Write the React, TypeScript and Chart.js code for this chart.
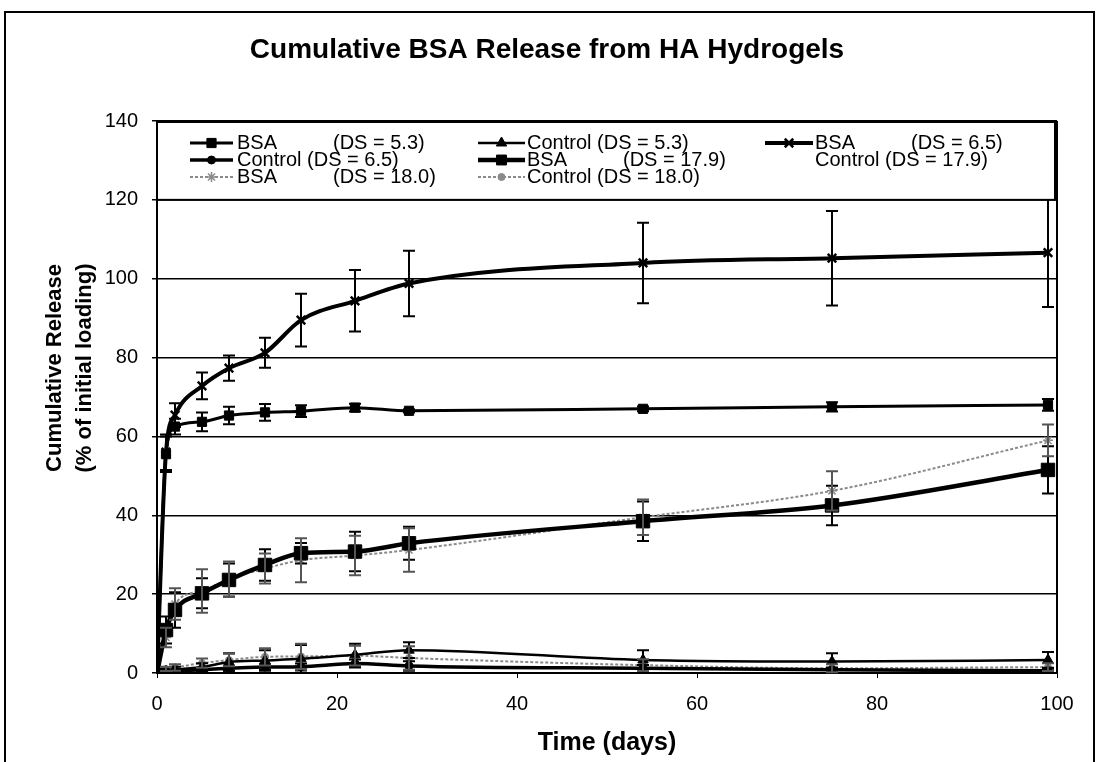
import React, { useEffect, useRef } from 'react';
import { Chart, registerables } from 'chart.js';
import { drawPoint } from 'chart.js/helpers';

Chart.register(...registerables);

// ---------------- data ----------------
const days = [0, 1, 2, 5, 8, 12, 16, 22, 28, 54, 75, 99];

const bsa53 = [0, 55.5, 62.5, 63.7, 65.3, 66.1, 66.4, 67.3, 66.5, 67, 67.5, 68];
const bsa53Err = [0, 4.5, 2, 2.4, 2.2, 2.1, 1.5, 1, 0.4, 0.6, 1.2, 1.5];

const ctl53 = [0, 0.4, 0.8, 1.5, 2.8, 3.2, 3.6, 4.6, 5.8, 3.3, 2.9, 3.3];
const ctl53Err = [0, 0.5, 0.8, 1, 2.2, 2.6, 3.5, 2.8, 2, 2.5, 2.1, 2];

const bsa65 = [0, 56, 65.4, 72.8, 77.3, 81.2, 89.5, 94.4, 98.8, 104, 105.2, 106.6];
const bsa65Err = [0, 4.5, 3, 3.4, 3.2, 3.8, 6.7, 7.8, 8.3, 10.2, 12, 13.8];

const ctl65 = [0, 0.3, 0.5, 0.8, 1.2, 1.5, 1.6, 2.4, 1.8, 1.2, 0.8, 0.6];
const ctl65Err = [0, 0.3, 0.4, 0.5, 0.6, 0.7, 0.8, 1, 1.2, 0.8, 0.6, 0.5];

const bsa179 = [0, 10.9, 16, 20.2, 23.6, 27.4, 30.4, 30.8, 32.9, 38.5, 42.5, 51.5];
const bsa179Err = [0, 3.4, 4.5, 3.8, 4.2, 4, 2.6, 5, 4.2, 5, 5, 6];

const ctl179 = [0, 0.2, 0.3, 0.5, 0.6, 0.7, 0.8, 0.9, 1, 0.8, 0.6, 0.5];

const bsa180 = [0, 9, 17.5, 20.8, 23.8, 26.5, 28.6, 29.8, 31.2, 39.5, 46.2, 59];
const bsa180Err = [0, 2.5, 4, 5.5, 4.5, 3.8, 5.6, 5, 5.5, 4.5, 5, 4];

const ctl180 = [0, 1, 1.4, 2.5, 3.3, 4.1, 4.2, 4.4, 3.8, 2, 1.2, 1.5];
const ctl180Err = [0, 0.5, 0.8, 1.2, 1.6, 2.2, 3.2, 2.5, 3, 1.5, 1, 1];

const seriesNames = ['BSA', 'Control', 'BSA', 'Control', 'BSA', 'Control', 'BSA', 'Control'];
const seriesDS = ['(DS = 5.3)', '(DS = 5.3)', '(DS = 6.5)', '(DS = 6.5)', '(DS = 17.9)', '(DS = 17.9)', '(DS = 18.0)', '(DS = 18.0)'];

const chartTitle = 'Cumulative BSA Release from HA Hydrogels';
const xTitle = 'Time (days)';
const yTitleLines = ['Cumulative Release', '(% of initial loading)'];

const xMin = 0, xMax = 100, xStep = 20;
const yMin = 0, yMax = 140, yStep = 20;

const FONT = 'Arial, "Liberation Sans", Helvetica, sans-serif';

// ---------------- helpers ----------------
const pts = (vals: number[]) => vals.map((v, i) => ({ x: days[i], y: v }));

type Style = {
  color: string; width: number; dash: number[]; pointStyle: any; radius: number; pbw: number; fill: string; err: string;
};

const styles: Style[] = [
  { color: '#000', width: 3, dash: [], pointStyle: 'rect', radius: 6.5, pbw: 1, fill: '#000', err: '#000' },
  { color: '#000', width: 2.5, dash: [], pointStyle: 'triangle', radius: 6, pbw: 1, fill: '#000', err: '#000' },
  { color: '#000', width: 4, dash: [], pointStyle: 'crossRot', radius: 6, pbw: 2.5, fill: '#000', err: '#000' },
  { color: '#000', width: 3.5, dash: [], pointStyle: 'circle', radius: 4, pbw: 1, fill: '#000', err: '#000' },
  { color: '#000', width: 4.5, dash: [], pointStyle: 'rect', radius: 9.5, pbw: 1, fill: '#000', err: '#000' },
  { color: 'rgba(0,0,0,0)', width: 2, dash: [], pointStyle: 'circle', radius: 0, pbw: 0, fill: 'rgba(0,0,0,0)', err: 'rgba(0,0,0,0)' },
  { color: '#8a8a8a', width: 2, dash: [3, 2], pointStyle: 'star', radius: 5, pbw: 1.5, fill: '#8a8a8a', err: '#555' },
  { color: '#8a8a8a', width: 2, dash: [3, 2], pointStyle: 'circle', radius: 3.5, pbw: 1, fill: '#8a8a8a', err: '#555' },
];

const seriesValues = [bsa53, ctl53, bsa65, ctl65, bsa179, ctl179, bsa180, ctl180];
const seriesErrors = [bsa53Err, ctl53Err, bsa65Err, ctl65Err, bsa179Err, null, bsa180Err, ctl180Err];

const framePlugin = {
  id: 'frame',
  beforeDraw(chart: any) {
    const ctx = chart.ctx;
    ctx.save();
    ctx.fillStyle = '#fff';
    ctx.fillRect(0, 0, chart.width, chart.height);
    ctx.fillStyle = '#000';
    // outer figure frame (top, left, right edges)
    ctx.fillRect(4, 11, 1091, 2);
    ctx.fillRect(4, 11, 2, chart.height - 11);
    ctx.fillRect(1093, 11, 2, chart.height - 11);
    ctx.restore();
  },
  afterDatasetsDraw(chart: any) {
    const { ctx, chartArea } = chart;
    ctx.save();
    ctx.strokeStyle = '#000';
    ctx.lineWidth = 2;
    ctx.beginPath();
    ctx.moveTo(chartArea.right, chartArea.top);
    ctx.lineTo(chartArea.right, chartArea.bottom);
    ctx.moveTo(chartArea.left, chartArea.top);
    ctx.lineTo(chartArea.right, chartArea.top);
    ctx.stroke();
    ctx.restore();
  },
};

const errorBarPlugin = {
  id: 'errorBars',
  afterDatasetsDraw(chart: any) {
    const { ctx } = chart;
    const xs = chart.scales.x;
    const ys = chart.scales.y;
    ctx.save();
    ctx.lineWidth = 2;
    seriesErrors.forEach((errs, i) => {
      if (!errs) return;
      ctx.strokeStyle = styles[i].err;
      const vals = seriesValues[i];
      errs.forEach((e, j) => {
        if (!e) return;
        const px = xs.getPixelForValue(days[j]);
        const top = ys.getPixelForValue(vals[j] + e);
        const bot = ys.getPixelForValue(Math.max(0, vals[j] - e));
        ctx.beginPath();
        ctx.moveTo(px, top);
        ctx.lineTo(px, bot);
        ctx.moveTo(px - 6, top);
        ctx.lineTo(px + 6, top);
        ctx.moveTo(px - 6, bot);
        ctx.lineTo(px + 6, bot);
        ctx.stroke();
      });
    });
    ctx.restore();
  },
};

const legendPlugin = {
  id: 'boxLegend',
  afterDraw(chart: any) {
    const { ctx, chartArea } = chart;
    const ys = chart.scales.y;
    const xs = chart.scales.x;
    const left = chartArea.left;
    const top = chartArea.top + 1;
    const bottom = ys.getPixelForValue(120);
    const right = xs.getPixelForValue(100) - 2;
    ctx.save();
    ctx.fillStyle = '#fff';
    ctx.fillRect(left, top, right - left, bottom - top);
    ctx.strokeStyle = '#000';
    ctx.lineWidth = 2;
    ctx.strokeRect(left, top, right - left, bottom - top);

    const rowY = [21, 38, 55];
    const sx1 = [33, 321, 608];
    const sx2 = [76, 368, 656];
    const tx = [80, 370, 658];
    ctx.font = `20px ${FONT}`;
    ctx.textBaseline = 'middle';
    ctx.textAlign = 'left';
    seriesNames.forEach((name, i) => {
      const col = i % 3;
      const row = Math.floor(i / 3);
      const y = top + rowY[row];
      const st = styles[i];
      ctx.save();
      ctx.strokeStyle = st.color;
      ctx.lineWidth = st.width;
      ctx.setLineDash(st.dash);
      ctx.beginPath();
      ctx.moveTo(left + sx1[col], y);
      ctx.lineTo(left + sx2[col], y);
      ctx.stroke();
      ctx.setLineDash([]);
      if (st.radius > 0) {
        ctx.fillStyle = st.fill;
        ctx.strokeStyle = st.color;
        ctx.lineWidth = st.pbw;
        drawPoint(ctx, { pointStyle: st.pointStyle, radius: Math.min(st.radius, 7), rotation: 0, borderWidth: st.pbw }, left + (sx1[col] + sx2[col]) / 2, y);
      }
      ctx.restore();
      ctx.fillStyle = '#000';
      if (name === 'BSA') {
        ctx.fillText(name, left + tx[col], y);
        ctx.fillText(seriesDS[i], left + tx[col] + 96, y);
      } else {
        ctx.fillText(`${name} ${seriesDS[i]}`, left + tx[col], y);
      }
    });
    ctx.restore();
  },
};

const yTitlePlugin = {
  id: 'yTitle',
  afterDraw(chart: any) {
    const { ctx } = chart;
    ctx.save();
    ctx.font = `bold 22px ${FONT}`;
    ctx.fillStyle = '#000';
    ctx.textAlign = 'center';
    ctx.textBaseline = 'middle';
    ctx.translate(55, 368);
    ctx.rotate(-Math.PI / 2);
    ctx.fillText(yTitleLines[0], 0, 0);
    ctx.fillText(yTitleLines[1], 0, 30);
    ctx.restore();
  },
};

export default function App() {
  const ref = useRef<HTMLCanvasElement | null>(null);
  useEffect(() => {
    if (!ref.current) return;
    const datasets = seriesValues.map((vals, i) => {
      const st = styles[i];
      return {
        label: `${seriesNames[i]} ${seriesDS[i]}`,
        data: pts(vals),
        borderColor: st.color,
        backgroundColor: st.fill,
        borderWidth: st.width,
        borderDash: st.dash,
        pointStyle: st.pointStyle,
        pointRadius: st.radius,
        pointBorderWidth: st.pbw,
        pointBackgroundColor: st.fill,
        pointBorderColor: st.color,
        cubicInterpolationMode: 'monotone',
        fill: false,
      };
    });
    const chart = new Chart(ref.current, {
      type: 'line',
      data: { datasets } as any,
      options: {
        animation: false,
        responsive: false,
        devicePixelRatio: 1,
        layout: { padding: { left: 37, right: 42, top: 0, bottom: 0 } },
        plugins: {
          legend: { display: false },
          tooltip: { enabled: false },
          title: {
            display: true,
            text: chartTitle,
            color: '#000',
            font: { family: FONT, size: 28, weight: 'bold', lineHeight: 1.2 },
            padding: { top: 33, bottom: 54.4 },
          },
        },
        scales: {
          x: {
            type: 'linear',
            min: xMin,
            max: xMax,
            afterFit: (s: any) => { s.height = 89; },
            ticks: { stepSize: xStep, color: '#000', font: { family: FONT, size: 20 }, padding: 14, maxRotation: 0 },
            grid: { display: true, drawOnChartArea: false, drawTicks: true, tickLength: 5, color: '#000' },
            border: { display: true, color: '#000', width: 2 },
            title: { display: true, text: xTitle, color: '#000', font: { family: FONT, size: 25, weight: 'bold', lineHeight: 1.2 }, padding: { top: 0, bottom: 4 } },
          },
          y: {
            min: yMin,
            max: yMax,
            afterFit: (s: any) => { s.width = 120; },
            ticks: { stepSize: yStep, color: '#000', font: { family: FONT, size: 20 }, padding: 14 },
            grid: { color: '#000', lineWidth: 1.5, tickLength: 5, drawTicks: true },
            border: { display: true, color: '#000', width: 2 },
          },
        },
      } as any,
      plugins: [framePlugin, errorBarPlugin, legendPlugin, yTitlePlugin],
    });
    return () => chart.destroy();
  }, []);
  return (
    <div style={{ position: 'absolute', left: 0, top: 0, width: 1099, height: 762 }}>
      <canvas ref={ref} width={1099} height={762} style={{ display: 'block' }} />
    </div>
  );
}
